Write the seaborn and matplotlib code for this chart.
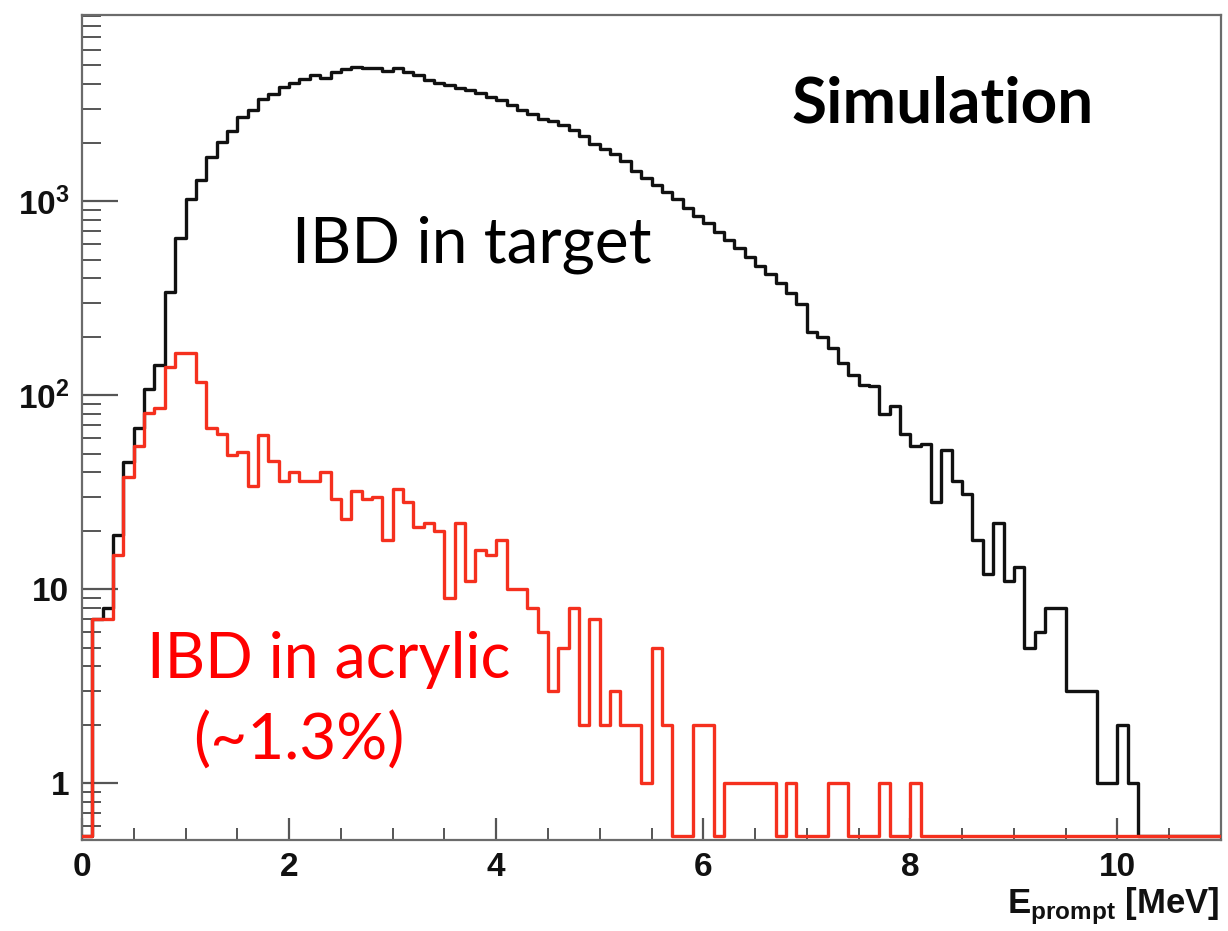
import numpy as np
import pandas as pd
import matplotlib
matplotlib.use('Agg')
import matplotlib.pyplot as plt
from matplotlib.ticker import MultipleLocator, LogLocator, NullFormatter
import seaborn as sns

# 0.1 MeV bins from 0 to 11 MeV
bin_edges = [round(0.1 * i, 2) for i in range(111)]

# counts per bin
target_counts = [
    0, 7, 8, 19, 45, 68, 107, 143, 342, 645,
    1020, 1290, 1690, 2020, 2300, 2720, 2950, 3340, 3560, 3880,
    4040, 4240, 4460, 4290, 4640, 4770, 4920, 4830, 4830, 4690,
    4830, 4650, 4460, 4210, 4040, 3960, 3810, 3735, 3590, 3450,
    3320, 3130, 2950, 2800, 2650, 2600, 2470, 2330, 2170, 1980,
    1850, 1740, 1600, 1430, 1320, 1210, 1116, 1020, 925, 840,
    767, 695, 629, 575, 516, 463, 420, 380, 335, 295,
    212, 200, 174, 146, 127, 113, 112, 80, 88, 63,
    55, 56, 28, 52, 36, 31, 18, 12, 22, 11,
    13, 5, 6, 8, 8, 3, 3, 3, 1, 1,
    2, 1, 0, 0, 0, 0, 0, 0, 0, 0,
]
acrylic_counts = [
    0, 7, 7, 15, 38, 55, 81, 86, 139, 165,
    165, 117, 68, 63, 49, 51, 34, 62, 46, 36,
    40, 36, 36, 40, 29, 23, 32, 29, 30, 18,
    33, 28, 21, 22, 20, 9, 22, 11, 16, 15,
    18, 10, 10, 8, 6, 3, 5, 8, 2, 7,
    2, 3, 2, 2, 1, 5, 2, 0, 0, 2,
    2, 0, 1, 1, 1, 1, 1, 0, 1, 0,
    0, 0, 1, 1, 0, 0, 0, 1, 0, 0,
    1, 0, 0, 0, 0, 0, 0, 0, 0, 0,
    0, 0, 0, 0, 0, 0, 0, 0, 0, 0,
    0, 0, 0, 0, 0, 0, 0, 0, 0, 0,
]

x_ticks = [0, 2, 4, 6, 8, 10]
x_tick_labels = ['0', '2', '4', '6', '8', '10']
y_ticks = [1, 10, 100, 1000]
y_tick_labels = ['1', '10', r'$\mathbf{10^{2}}$', r'$\mathbf{10^{3}}$']

y_low, y_high = 0.51, 9100
y_floor = 0.535  # where empty bins are drawn, on the bottom frame

sns.set_style('ticks')
plt.rcParams['font.family'] = ['Liberation Sans', 'DejaVu Sans']
plt.rcParams['mathtext.fontset'] = 'custom'
plt.rcParams['mathtext.bf'] = 'Liberation Sans:bold'
plt.rcParams['mathtext.rm'] = 'Liberation Sans'
plt.rcParams['text.color'] = 'black'

fig, ax = plt.subplots(figsize=(12.28, 9.31), dpi=100)
fig.patch.set_facecolor('white')
fig.subplots_adjust(left=82 / 1228, right=1221 / 1228,
                    bottom=1 - 840 / 931, top=1 - 15 / 931)

edges = np.array(bin_edges)
centers = (edges[:-1] + edges[1:]) / 2
df = pd.DataFrame({
    'E': centers,
    'target': np.clip(target_counts, y_floor, None),
    'acrylic': np.clip(acrylic_counts, y_floor, None),
})

sns.histplot(data=df, x='E', weights='target', bins=bin_edges,
             element='step', fill=False, color='#111111', linewidth=2.4,
             ax=ax, zorder=3)
sns.histplot(data=df, x='E', weights='acrylic', bins=bin_edges,
             element='step', fill=False, color='#f5301e', linewidth=2.4,
             ax=ax, zorder=4)

ax.set_yscale('log')
ax.set_xlim(0, 11)
ax.set_ylim(y_low, y_high)
ax.set_xlabel('')
ax.set_ylabel('')

ax.set_xticks(x_ticks, labels=x_tick_labels, fontweight='bold', fontsize=24)
ax.set_yticks(y_ticks, labels=y_tick_labels, fontweight='bold', fontsize=24)
ax.xaxis.set_minor_locator(MultipleLocator(0.5))
ax.yaxis.set_minor_locator(LogLocator(base=10, subs=np.arange(2, 10), numticks=20))
ax.yaxis.set_minor_formatter(NullFormatter())

tick_col = '#555555'
ax.tick_params(axis='x', which='major', direction='in', length=16, width=1.6,
               color=tick_col, top=False, pad=9, labelcolor='#111111')
ax.tick_params(axis='x', which='minor', direction='in', length=9, width=1.4,
               color=tick_col, top=False)
ax.tick_params(axis='y', which='major', direction='in', length=26, width=1.6,
               color=tick_col, right=False, pad=9, labelcolor='#111111')
ax.tick_params(axis='y', which='minor', direction='in', length=14, width=1.4,
               color=tick_col, right=False)

for side in ['left', 'right', 'top', 'bottom']:
    ax.spines[side].set_color('#6b6b6b')
    ax.spines[side].set_linewidth(1.6)

ax.text(0.9985, -0.056, r'$\mathbf{E}_{\mathbf{prompt}}$ [MeV]', transform=ax.transAxes,
        ha='right', va='top', fontsize=25, fontweight='bold', color='#111111')

ax.text(0.623, 0.870, 'Simulation', transform=ax.transAxes, family=['Lato', 'DejaVu Sans'],
        fontsize=46, fontweight='bold', color='black', va='baseline', ha='left')
ax.text(0.184, 0.7006, 'IBD in target', transform=ax.transAxes, family=['Lato', 'DejaVu Sans'],
        fontsize=46, color='black', va='baseline', ha='left')
ax.text(0.057, 0.196, 'IBD in acrylic', transform=ax.transAxes, family=['Lato', 'DejaVu Sans'],
        fontsize=45, color='red', va='baseline', ha='left')
ax.text(0.0975, 0.098, '(~1.3%)', transform=ax.transAxes, family=['Lato', 'DejaVu Sans'],
        fontsize=46, color='red', va='baseline', ha='left')

fig.savefig('out.png', dpi=100, facecolor='white')
plt.close(fig)
